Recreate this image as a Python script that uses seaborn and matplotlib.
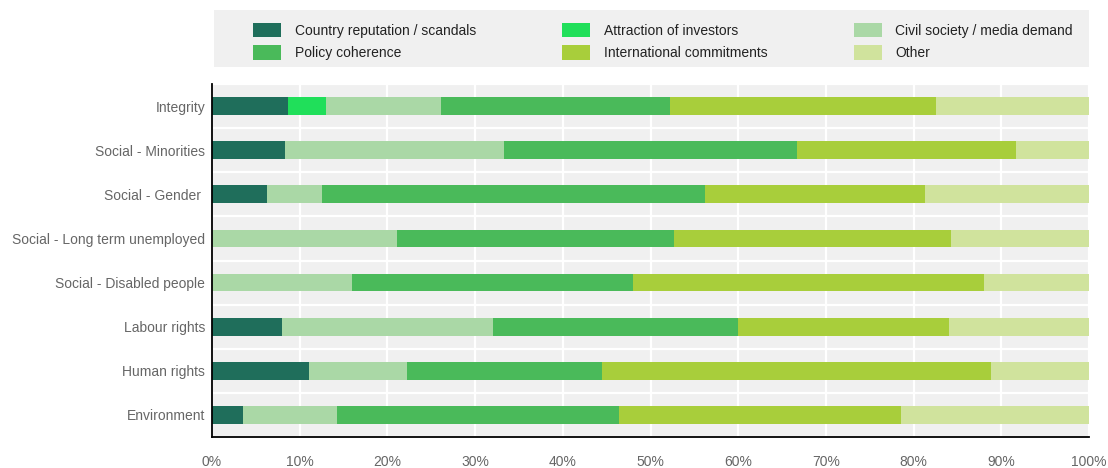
import numpy as np
import pandas as pd
import matplotlib.pyplot as plt
import seaborn as sns
from matplotlib.patches import Patch, Rectangle

# =========================
# DATA (share of answers, %)
# =========================
categories = [
    "Integrity",
    "Social - Minorities",
    "Social - Gender ",
    "Social - Long term unemployed",
    "Social - Disabled people",
    "Labour rights",
    "Human rights",
    "Environment",
]

country_reputation = [8.70, 8.33, 6.25, 0.00, 0.00, 8.00, 11.11, 3.57]
attraction_investors = [4.35, 0.00, 0.00, 0.00, 0.00, 0.00, 0.00, 0.00]
civil_society = [13.04, 25.00, 6.25, 21.05, 16.00, 24.00, 11.11, 10.71]
policy_coherence = [26.09, 33.33, 43.75, 31.58, 32.00, 28.00, 22.22, 32.14]
international = [30.43, 25.00, 25.00, 31.58, 40.00, 24.00, 44.44, 32.14]
other = [17.39, 8.33, 18.75, 15.79, 12.00, 16.00, 11.11, 21.43]

series_names = [
    "Country reputation / scandals",
    "Attraction of investors",
    "Civil society / media demand",
    "Policy coherence",
    "International commitments",
    "Other",
]
series_colors = ["#1f6e5b", "#20df5a", "#aad8a6", "#4aba5a", "#a8ce3b", "#d0e39d"]

df = pd.DataFrame({
    "category": categories,
    series_names[0]: country_reputation,
    series_names[1]: attraction_investors,
    series_names[2]: civil_society,
    series_names[3]: policy_coherence,
    series_names[4]: international,
    series_names[5]: other,
})

# cumulative widths, drawn from the back so that they look stacked
cum = df[series_names].cumsum(axis=1)
cum["category"] = df["category"]

# =========================
# STYLE
# =========================
sns.set_style("white", {"axes.facecolor": "#f0f0f0"})
plt.rcParams["font.family"] = ["Liberation Sans", "DejaVu Sans"]

W, H = 1108, 468
fig = plt.figure(figsize=(W / 100, H / 100), dpi=100)
ax = fig.add_axes([212 / W, 31 / H, 877 / W, 353 / H])

for name, color in reversed(list(zip(series_names, series_colors))):
    sns.barplot(
        data=cum, x=name, y="category", order=categories, orient="y",
        color=color, saturation=1, width=0.4, linewidth=0, errorbar=None, ax=ax,
    )

# =========================
# AXES
# =========================
ax.set_xlim(0, 100)
ax.set_ylim(len(categories) - 0.5, -0.5)
ax.set_xlabel("")
ax.set_ylabel("")
ax.set_axisbelow(True)

ax.set_xticks(np.arange(0, 101, 10))
ax.set_xticklabels([f"{v}%" for v in range(0, 101, 10)])
ax.set_yticks(range(len(categories)))
ax.set_yticklabels(categories)
ax.set_yticks(np.arange(-0.5, len(categories), 1), minor=True)

ax.xaxis.grid(True, color="white", linewidth=1.6)
ax.yaxis.grid(True, which="minor", color="white", linewidth=1.6)
ax.yaxis.grid(False, which="major")

ax.tick_params(axis="x", direction="in", length=5, width=1.2, color="black",
               labelcolor="#666666", labelsize=10, pad=13)
ax.tick_params(axis="y", which="major", length=0, labelcolor="#666666",
               labelsize=10, pad=5)
ax.tick_params(axis="y", which="minor", direction="in", length=4, width=1.2,
               color="black")

for side in ["top", "right"]:
    ax.spines[side].set_visible(False)
for side in ["left", "bottom"]:
    ax.spines[side].set_color("black")
    ax.spines[side].set_linewidth(1.3)

# =========================
# LEGEND (grey box + legend without frame)
# =========================
fig.patches.append(Rectangle((214 / W, 1 - 67 / H), 875 / W, 57 / H,
                             transform=fig.transFigure, facecolor="#f0f0f0",
                             edgecolor="none", zorder=0))

handles = [Patch(facecolor=c, edgecolor="none") for c in series_colors]
order = [0, 3, 1, 4, 2, 5]
leg = fig.legend(
    [handles[i] for i in order], [series_names[i] for i in order],
    ncol=3, loc="center left",
    bbox_to_anchor=(253 / W, 1 - 61.5 / H, 820 / W, 40 / H),
    mode="expand", frameon=False, fontsize=10,
    handlelength=2.0, handleheight=1.2, handletextpad=1.0,
    labelspacing=0.55, borderaxespad=0, borderpad=0,
)
for t in leg.get_texts():
    t.set_color("#222222")

fig.savefig("out.png", dpi=100)
